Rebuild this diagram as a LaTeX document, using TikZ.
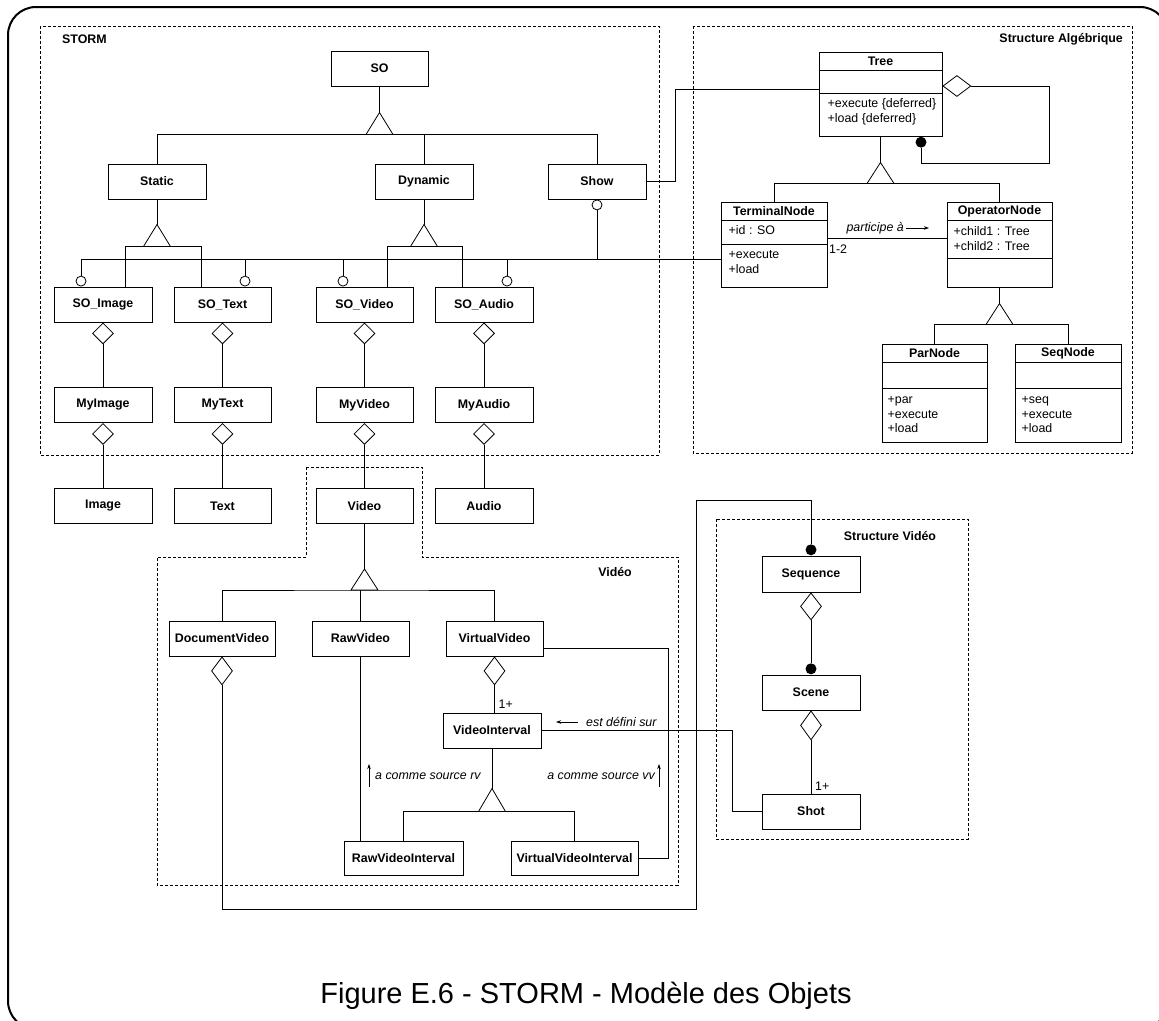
\documentclass[tikz,border=0pt]{standalone}
\usepackage{fontspec}
\setmainfont{Liberation Sans}
\usetikzlibrary{positioning,calc,shapes.geometric,arrows.meta}
\newcommand{\umlfont}{\fontsize{12.4}{14.6}\selectfont}

\begin{document}
\begin{tikzpicture}[x=1pt, y=-1pt]
  \tikzset{
    cls/.style={draw=black, line width=1pt, minimum width=98, minimum height=35, inner sep=0pt, font=\umlfont\bfseries},
    box/.style={draw=black, line width=1pt, inner sep=0pt},
    e/.style={draw=black, line width=0.8pt},
    tri/.style={draw=black, fill=white, line width=0.8pt},
    agg/.style={diamond, draw=black, fill=white, line width=0.8pt, inner sep=0pt, minimum width=21, minimum height=21},
    dot/.style={circle, fill=black, inner sep=0pt, minimum size=11},
    ifc/.style={circle, draw=black, fill=white, line width=0.8pt, inner sep=0pt, minimum size=10},
    pkg/.style={draw=black, line width=0.7pt, dash pattern=on 3pt off 2pt},
    ttl/.style={font=\umlfont\bfseries, inner sep=0pt},
    txt/.style={font=\umlfont, inner sep=0pt, anchor=west, align=left},
    note/.style={font=\umlfont\itshape, inner sep=0pt},
    arr/.style={line width=0.7pt, -{Stealth[length=5pt, width=3.5pt]}}
  }

  \useasboundingbox (0,0) rectangle (1159,1020);

  % outer frame
  \draw[line width=2pt, rounded corners=28] (8,7) rectangle (1168,1029);

  % packages
  \draw[pkg] (40,26) rectangle (659,455);
  \node[ttl, anchor=west] at (62,39) {STORM};
  \draw[pkg] (693,26) rectangle (1132,453);
  \node[ttl, anchor=east] at (1123,39) {Structure Algébrique};
  \draw[pkg] (306,467) -- (422,467) -- (422,557) -- (678,557) -- (678,885)
    -- (157,885) -- (157,557) -- (306,557) -- cycle;
  \node[ttl, anchor=east] at (632,572) {Vidéo};
  \draw[pkg] (716,519) rectangle (968,839);
  \node[ttl] at (890,536) {Structure Vidéo};

  % STORM classes
  \node[cls, minimum width=97] (so) at (379.5,68.5) {SO};
  \node[cls] (static) at (157,181.5) {Static};
  \node[cls] (dynamic) at (424,181.5) {Dynamic};
  \node[cls] (show) at (597,181.5) {Show};
  \node[cls] (soimg) at (103,304.5) {SO\_Image};
  \node[cls, minimum width=97] (sotxt) at (222.5,304.5) {SO\_Text};
  \node[cls, minimum width=97] (sovid) at (364.5,304.5) {SO\_Video};
  \node[cls] (soaud) at (484,304.5) {SO\_Audio};
  \node[cls] (myimg) at (103,405) {MyImage};
  \node[cls, minimum width=97] (mytxt) at (222.5,405) {MyText};
  \node[cls, minimum width=97] (myvid) at (364.5,405) {MyVideo};
  \node[cls] (myaud) at (484,405) {MyAudio};
  \node[cls] (img) at (103,506) {Image};
  \node[cls, minimum width=97] (txt) at (222.5,506) {Text};
  \node[cls, minimum width=97] (vid) at (364.5,506) {Video};
  \node[cls] (aud) at (484,506) {Audio};

  % SO generalisation
  \draw[e] (so.south) -- ++(0,26) coordinate (soA);
  \draw[tri] (soA) -- ++(-13.5,22) -- ++(27,0) -- cycle;
  \coordinate (soB) at ($(soA)+(0,22)$);
  \draw[e] (static.north) |- (soB) -| (show.north);
  \draw[e] (dynamic.north) -- (dynamic.north |- soB);

  % Static / Dynamic generalisation
  \draw[e] (static.south) -- ++(0,25) coordinate (stA);
  \draw[tri] (stA) -- ++(-13.5,22) -- ++(27,0) -- cycle;
  \coordinate (stB) at ($(stA)+(0,22)$);
  \draw[e] ($(soimg.north)+(22,0)$) |- (stB) -| ($(sotxt.north)+(-21.5,0)$);
  \draw[e] (dynamic.south) -- ++(0,25) coordinate (dyA);
  \draw[tri] (dyA) -- ++(-13.5,22) -- ++(27,0) -- cycle;
  \coordinate (dyB) at ($(dyA)+(0,22)$);
  \draw[e] ($(sovid.north)+(22.5,0)$) |- (dyB) -| ($(soaud.north)+(-22,0)$);

  % interfaces (lollipops)
  \node[ifc, anchor=south] (iimg) at ($(soimg.north)+(-22,0)$) {};
  \node[ifc, anchor=south] (itxt) at ($(sotxt.north)+(22.5,0)$) {};
  \node[ifc, anchor=south] (ivid) at ($(sovid.north)+(-21.5,0)$) {};
  \node[ifc, anchor=south] (iaud) at ($(soaud.north)+(23,0)$) {};
  \node[ifc, anchor=north] (ishow) at (show.south) {};
  \coordinate (ifcL) at ($(iimg.north)+(0,-16)$);

  % aggregations in STORM
  \node[agg, anchor=north] (asoimg) at (soimg.south) {};
  \node[agg, anchor=north] (asotxt) at (sotxt.south) {};
  \node[agg, anchor=north] (asovid) at (sovid.south) {};
  \node[agg, anchor=north] (asoaud) at (soaud.south) {};
  \node[agg, anchor=north] (amyimg) at (myimg.south) {};
  \node[agg, anchor=north] (amytxt) at (mytxt.south) {};
  \node[agg, anchor=north] (amyvid) at (myvid.south) {};
  \node[agg, anchor=north] (amyaud) at (myaud.south) {};
  \draw[e] (asoimg.south) -- (myimg.north);
  \draw[e] (asotxt.south) -- (mytxt.north);
  \draw[e] (asovid.south) -- (myvid.north);
  \draw[e] (asoaud.south) -- (myaud.north);
  \draw[e] (amyimg.south) -- (img.north);
  \draw[e] (amytxt.south) -- (txt.north);
  \draw[e] (amyvid.south) -- (vid.north);
  \draw[e] (amyaud.south) -- (aud.north);

  % Structure Algebrique
  \node[box, minimum width=123, minimum height=84] (tree) at (880.5,94) {};
  \draw[e] ($(tree.north west)+(0,19)$) -- ($(tree.north east)+(0,19)$);
  \draw[e] ($(tree.north west)+(0,42)$) -- ($(tree.north east)+(0,42)$);
  \node[ttl] at ($(tree.north)+(0,9.5)$) {Tree};
  \node[txt] at ($(tree.north west)+(9,60)$) {+execute \{deferred\}\\+load \{deferred\}};

  \node[box, minimum width=106, minimum height=85] (term) at (774,244.5) {};
  \draw[e] ($(term.north west)+(0,19)$) -- ($(term.north east)+(0,19)$);
  \draw[e] ($(term.north west)+(0,43)$) -- ($(term.north east)+(0,43)$);
  \node[ttl] at ($(term.north)+(0,9.5)$) {TerminalNode};
  \node[txt] at ($(term.north west)+(8,29)$) {+id : SO};
  \node[txt] at ($(term.north west)+(8,60.5)$) {+execute\\+load};

  \node[box, minimum width=105, minimum height=85] (oper) at (999.5,244.5) {};
  \draw[e] ($(oper.north west)+(0,19)$) -- ($(oper.north east)+(0,19)$);
  \draw[e] ($(oper.north west)+(0,57)$) -- ($(oper.north east)+(0,57)$);
  \node[ttl] at ($(oper.north)+(0,9.5)$) {OperatorNode};
  \node[txt] at ($(oper.north west)+(7,37)$) {+child1 : Tree\\+child2 : Tree};

  \node[box, minimum width=105, minimum height=98] (parn) at (934.5,393) {};
  \draw[e] ($(parn.north west)+(0,19)$) -- ($(parn.north east)+(0,19)$);
  \draw[e] ($(parn.north west)+(0,45)$) -- ($(parn.north east)+(0,45)$);
  \node[ttl] at ($(parn.north)+(0,9.5)$) {ParNode};
  \node[txt] at ($(parn.north west)+(6,71)$) {+par\\+execute\\+load};

  \node[box, minimum width=106, minimum height=98] (seqn) at (1068,393) {};
  \draw[e] ($(seqn.north west)+(0,19)$) -- ($(seqn.north east)+(0,19)$);
  \draw[e] ($(seqn.north west)+(0,45)$) -- ($(seqn.north east)+(0,45)$);
  \node[ttl] at ($(seqn.north)+(0,9.5)$) {SeqNode};
  \node[txt] at ($(seqn.north west)+(7,71)$) {+seq\\+execute\\+load};

  % interface line to TerminalNode
  \draw[e] (iimg.north) -- (ifcL) -- (ifcL -| term.west);
  \draw[e] (itxt.north) -- (itxt.north |- ifcL);
  \draw[e] (ivid.north) -- (ivid.north |- ifcL);
  \draw[e] (iaud.north) -- (iaud.north |- ifcL);
  \draw[e] (ishow.south) -- (ishow.south |- ifcL);

  % Show -> Tree
  \draw[e] (show.east) -- ++(29,0) |- ([yshift=5pt]tree.west);

  % Tree self aggregation
  \node[agg, minimum width=28, minimum height=21, anchor=west] (atree) at ([yshift=8pt]tree.east) {};
  \node[dot, anchor=north] (dtree) at ([xshift=40.5pt]tree.south) {};
  \coordinate (treeC) at (1049,163);
  \draw[e] (atree.east) -| (treeC) -| (dtree.south);

  % Tree generalisation
  \draw[e] (tree.south) -- ++(0,26) coordinate (treeA);
  \draw[tri] (treeA) -- ++(-13.5,21) -- ++(27,0) -- cycle;
  \coordinate (treeB) at ($(treeA)+(0,21)$);
  \draw[e] (term.north) |- (treeB) -| (oper.north);

  % OperatorNode generalisation
  \draw[e] (oper.south) -- ++(0,16) coordinate (operA);
  \draw[tri] (operA) -- ++(-13.5,21) -- ++(27,0) -- cycle;
  \coordinate (operB) at ($(operA)+(0,21)$);
  \draw[e] (parn.north) |- (operB) -| (seqn.north);

  % participe a
  \draw[e] ([yshift=6.5pt]term.east) -- ([yshift=6.5pt]oper.west);
  \node[note, anchor=east] (lpart) at (904,228) {participe à};
  \draw[arr] (906,228) -- (929,228);
  \node[txt] at (829,249) {1-2};

  % Video package
  \node[cls, minimum width=106] (docvid) at (222,638.5) {DocumentVideo};
  \node[cls, minimum width=97] (rawvid) at (360.5,638.5) {RawVideo};
  \node[cls, minimum width=97] (virtvid) at (494.5,638.5) {VirtualVideo};
  \node[cls] (vidint) at (492,730.5) {VideoInterval};
  \node[cls, minimum width=119, minimum height=34] (rawint) at (403.5,858) {RawVideoInterval};
  \node[cls, minimum width=127, minimum height=34] (virtint) at (574.5,858) {VirtualVideoInterval};

  \draw[e] (vid.south) -- ++(0,45) coordinate (vidA);
  \draw[tri] (vidA) -- ++(-13.5,21) -- ++(27,0) -- cycle;
  \coordinate (vidB) at ($(vidA)+(0,21)$);
  \draw[e] (docvid.north) |- (vidB) -| (virtvid.north);
  \draw[e] (rawvid.north) -- (rawvid.north |- vidB);

  \node[agg, minimum height=28, anchor=north] (avirt) at (virtvid.south) {};
  \draw[e] (avirt.south) -- (avirt.south |- vidint.north);
  \node[txt] at ($(avirt.south)+(4,19)$) {1+};

  \draw[e] (vidint.south) -- ++(0,40) coordinate (viA);
  \draw[tri] (viA) -- ++(-13.5,23) -- ++(27,0) -- cycle;
  \coordinate (viB) at ($(viA)+(0,23)$);
  \draw[e] (rawint.north) |- (viB) -| (virtint.north);

  \draw[e] (rawvid.south) -- (rawvid.south |- rawint.north);
  \draw[arr] (369,787) -- (369,764);
  \node[note, anchor=west] at (375,776) {a comme source rv};

  \draw[e] ([yshift=-9.5pt]virtvid.east) -- ++(125,0) |- (virtint.east);
  \node[note, anchor=east] at (655,776) {a comme source vv};
  \draw[arr] (659,787) -- (659,764);

  % Structure Video
  \node[cls, minimum height=36] (seq) at (811,574) {Sequence};
  \node[cls] (scene) at (811,692.5) {Scene};
  \node[cls] (shot) at (811,811.5) {Shot};
  \node[dot, anchor=south] (dseq) at (seq.north) {};
  \node[agg, minimum height=27, anchor=north] (aseq) at (seq.south) {};
  \node[dot, anchor=south] (dscene) at (scene.north) {};
  \draw[e] (aseq.south) -- (dscene.north);
  \node[agg, minimum height=29, anchor=north] (ascene) at (scene.south) {};
  \draw[e] (ascene.south) -- (shot.north);
  \node[txt] at ($(shot.north)+(4,-7)$) {1+};

  % VideoInterval -> Shot
  \draw[e] (vidint.east) -- ++(191,0) |- (shot.west);
  \draw[arr] (578,722) -- (556,722);
  \node[note, anchor=west] at (586,722) {est défini sur};

  % DocumentVideo -> Sequence
  \node[agg, minimum height=28, anchor=north] (adoc) at (docvid.south) {};
  \coordinate (docA) at (696,909);
  \coordinate (docB) at (811,500);
  \draw[e] (adoc.south) |- (docA) |- (docB) -- (dseq.north);

  % caption
  \node[font=\fontsize{29}{34}\selectfont, inner sep=0pt, anchor=base] at (586,1003)
    {Figure E.6 - STORM - Modèle des Objets};
\end{tikzpicture}
\end{document}
